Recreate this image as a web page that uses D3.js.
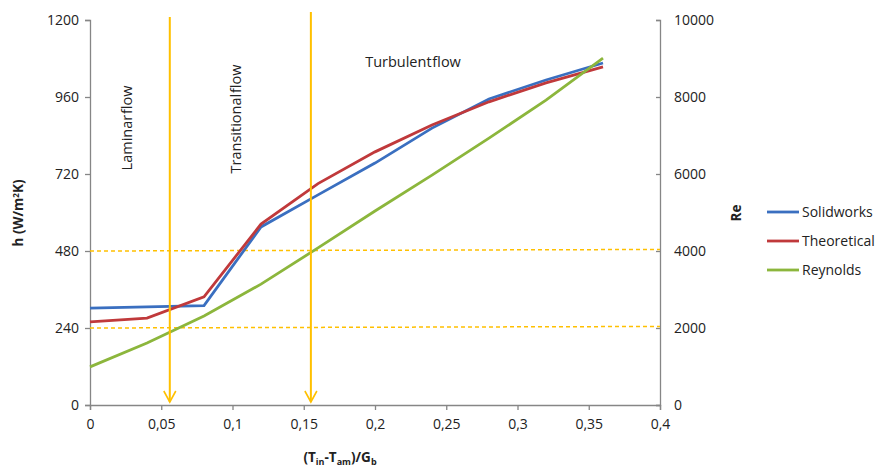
<!DOCTYPE html>
<html>
<head>
<meta charset="utf-8">
<script src="https://cdn.jsdelivr.net/npm/d3@7"></script>
<style>
body { margin: 0; background: #fff; }
svg text { font-family: "Open Sans", sans-serif; fill: #222; }
</style>
</head>
<body>
<svg width="879" height="467"></svg>
<script>
var xValues = [0, 0.04, 0.08, 0.12, 0.16, 0.2, 0.24, 0.28, 0.32, 0.36];
var solidworks = [302, 306, 310, 555, 655, 754, 863, 954, 1013, 1066];
var theoretical = [259, 271, 337, 564, 690, 789, 873, 945, 1004, 1054];
var reynolds = [990, 1610, 2310, 3140, 4080, 5040, 5970, 6930, 7920, 9010];
var xTicks = [0, 0.05, 0.1, 0.15, 0.2, 0.25, 0.3, 0.35, 0.4];
var hTicks = [0, 240, 480, 720, 960, 1200];
var reTicks = [0, 2000, 4000, 6000, 8000, 10000];
var reLimits = [2000, 4000];
var regimeBounds = [0.056, 0.155];

var svg = d3.select("svg");
var margin = {"top": 20, "right": 219, "bottom": 62, "left": 90};
var width = +svg.attr("width") - margin.left - margin.right;
var height = +svg.attr("height") - margin.top - margin.bottom;
var g = svg.append("g").attr("transform", "translate(" + margin.left + "," + margin.top + ")");

var x = d3.scaleLinear().domain([0, 0.4]).range([0, width]);
var yH = d3.scaleLinear().domain([0, 1200]).range([height, 0]);
var yRe = d3.scaleLinear().domain([0, 10000]).range([height, 0]);

var fmt = function (d) { return String(d).replace(".", ","); };

var axisColor = "#868686";
function styleAxis(sel) {
    sel.select(".domain").attr("stroke", axisColor).attr("stroke-width", 1.3);
    sel.selectAll(".tick line").attr("stroke", axisColor).attr("stroke-width", 1.3);
    sel.selectAll(".tick text").style("font-size", "14px").attr("fill", "#222");
}

g.append("g").attr("transform", "translate(0," + height + ")")
    .call(d3.axisBottom(x).tickValues(xTicks).tickFormat(fmt).tickSizeOuter(0).tickSize(5).tickPadding(9))
    .call(styleAxis);
g.append("g")
    .call(d3.axisLeft(yH).tickValues(hTicks).tickFormat(fmt).tickSizeOuter(0).tickSize(5).tickPadding(6))
    .call(styleAxis);
g.append("g").attr("transform", "translate(" + width + ",0)")
    .call(d3.axisRight(yRe).tickValues(reTicks).tickFormat(fmt).tickSizeOuter(0).tickSize(-4).tickPadding(14))
    .call(styleAxis);

// dashed Re thresholds
g.selectAll(".thr").data(reLimits).enter().append("line")
    .attr("x1", 0).attr("x2", width)
    .attr("y1", function (d) { return yRe(d); })
    .attr("y2", function (d) { return yRe(d + 40); })
    .attr("stroke", "#ffc000").attr("stroke-width", 1.5).attr("stroke-dasharray", "4,3");

var line = function (yScale) {
    return d3.line().x(function (d, i) { return x(xValues[i]); }).y(function (d) { return yScale(d); });
};

var series = [
    {name: "Solidworks", values: solidworks, color: "#3a6fc0", scale: yH},
    {name: "Theoretical", values: theoretical, color: "#c0393b", scale: yH},
    {name: "Reynolds", values: reynolds, color: "#8cb63c", scale: yRe}
];

series.forEach(function (s) {
    g.append("path").datum(s.values)
        .attr("d", line(s.scale))
        .attr("fill", "none").attr("stroke", s.color).attr("stroke-width", 2.8);
});

// regime arrows
var arrowTop = [-3, -8];
regimeBounds.forEach(function (b, i) {
    var ax = x(b);
    g.append("line").attr("x1", ax).attr("x2", ax).attr("y1", arrowTop[i]).attr("y2", height - 3)
        .attr("stroke", "#ffc000").attr("stroke-width", 2);
    g.append("path")
        .attr("d", "M" + (ax - 6) + "," + (height - 14) + "L" + ax + "," + (height - 3) + "L" + (ax + 6) + "," + (height - 14))
        .attr("fill", "none").attr("stroke", "#ffc000").attr("stroke-width", 1.6);
});

// regime labels
svg.append("text").attr("transform", "translate(132,128) rotate(-90)")
    .attr("text-anchor", "middle").style("font-size", "14.5px").style("word-spacing", "-3px").text("Laminar flow");
svg.append("text").attr("transform", "translate(241,119) rotate(-90)")
    .attr("text-anchor", "middle").style("font-size", "14.5px").style("word-spacing", "-3px").text("Transitional flow");
svg.append("text").attr("x", 413).attr("y", 67)
    .attr("text-anchor", "middle").style("font-size", "14.5px").style("word-spacing", "-3px").text("Turbulent flow");

// axis titles
var hLabel = svg.append("text").attr("transform", "translate(23,213) rotate(-90)")
    .attr("text-anchor", "middle").style("font-size", "13.5px").style("font-weight", "bold");
hLabel.append("tspan").text("h (W/m");
hLabel.append("tspan").text("2").attr("dy", -4).style("font-size", "8px");
hLabel.append("tspan").text("K)").attr("dy", 4);

svg.append("text").attr("transform", "translate(741,213) rotate(-90)")
    .attr("text-anchor", "middle").style("font-size", "13.5px").style("font-weight", "bold").text("Re");

var xLabel = svg.append("text").attr("x", 340).attr("y", 462)
    .attr("text-anchor", "middle").style("font-size", "13.5px").style("font-weight", "bold");
xLabel.append("tspan").text("(T");
xLabel.append("tspan").text("in").attr("dy", 3).style("font-size", "9px");
xLabel.append("tspan").text("-T").attr("dy", -3);
xLabel.append("tspan").text("am").attr("dy", 3).style("font-size", "9px");
xLabel.append("tspan").text(")/G").attr("dy", -3);
xLabel.append("tspan").text("b").attr("dy", 3).style("font-size", "9px");

// legend
var legend = svg.append("g").attr("transform", "translate(767,212)");
var rows = legend.selectAll("g").data(series).enter().append("g")
    .attr("transform", function (d, i) { return "translate(0," + i * 29 + ")"; });
rows.append("line").attr("x1", 0).attr("x2", 32).attr("y1", 0).attr("y2", 0)
    .attr("stroke", function (d) { return d.color; }).attr("stroke-width", 2.8);
rows.append("text").attr("x", 35).attr("y", 5).style("font-size", "14px")
    .text(function (d) { return d.name; });
</script>
</body>
</html>
